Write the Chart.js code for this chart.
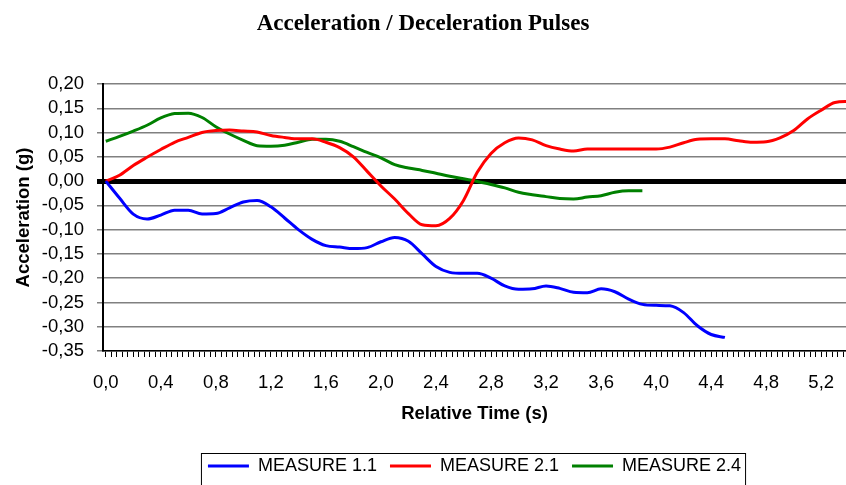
<!DOCTYPE html>
<html>
<head>
<meta charset="utf-8">
<title>Acceleration / Deceleration Pulses</title>
<script src="https://cdn.jsdelivr.net/npm/chart.js@4.4.1/dist/chart.umd.min.js"></script>
<style>
  html, body { margin: 0; padding: 0; background: #fff; }
  canvas { display: block; }
</style>
</head>
<body>
<canvas id="pulseChart" width="846" height="485"></canvas>
<script>
// relative time in seconds, one sample every 0.1 s
const times = [0.0, 0.1, 0.2, 0.3, 0.4, 0.5, 0.6, 0.7, 0.8, 0.9,
  1.0, 1.1, 1.2, 1.3, 1.4, 1.5, 1.6, 1.7, 1.8, 1.9,
  2.0, 2.1, 2.2, 2.3, 2.4, 2.5, 2.6, 2.7, 2.8, 2.9,
  3.0, 3.1, 3.2, 3.3, 3.4, 3.5, 3.6, 3.7, 3.8, 3.9,
  4.0, 4.1, 4.2, 4.3, 4.4, 4.5, 4.6, 4.7, 4.8, 4.9,
  5.0, 5.1, 5.2, 5.3, 5.4];

// acceleration in g
const measure11 = [0.000, -0.035, -0.068, -0.078, -0.070, -0.060, -0.060, -0.068, -0.067, -0.055,
  -0.043, -0.040, -0.053, -0.076, -0.100, -0.120, -0.133, -0.136, -0.139, -0.137,
  -0.125, -0.116, -0.124, -0.150, -0.176, -0.188, -0.190, -0.190, -0.200, -0.216,
  -0.223, -0.222, -0.216, -0.221, -0.229, -0.230, -0.222, -0.228, -0.243, -0.254,
  -0.256, -0.257, -0.271, -0.298, -0.316, -0.322];

const measure21 = [0.000, 0.012, 0.032, 0.049, 0.065, 0.080, 0.090, 0.100, 0.104, 0.105,
  0.103, 0.101, 0.094, 0.090, 0.087, 0.087, 0.080, 0.069, 0.050, 0.020,
  -0.010, -0.037, -0.067, -0.090, -0.092, -0.077, -0.040, 0.018, 0.057, 0.079,
  0.089, 0.085, 0.073, 0.066, 0.062, 0.066, 0.066, 0.066, 0.066, 0.066,
  0.066, 0.070, 0.079, 0.086, 0.087, 0.087, 0.083, 0.080, 0.081, 0.089,
  0.104, 0.128, 0.146, 0.162, 0.164];

const measure24 = [0.082, 0.092, 0.103, 0.115, 0.130, 0.139, 0.140, 0.131, 0.112, 0.097,
  0.084, 0.073, 0.072, 0.074, 0.080, 0.086, 0.086, 0.082, 0.071, 0.059,
  0.048, 0.034, 0.027, 0.022, 0.016, 0.010, 0.005, -0.001, -0.007, -0.014,
  -0.023, -0.028, -0.032, -0.036, -0.037, -0.033, -0.030, -0.023, -0.020, -0.020];

const seriesNames = ['MEASURE 1.1', 'MEASURE 2.1', 'MEASURE 2.4'];
const seriesColors = ['#0000ff', '#ff0000', '#008000'];

const xTickLabels = ['0,0', '0,4', '0,8', '1,2', '1,6', '2,0', '2,4',
  '2,8', '3,2', '3,6', '4,0', '4,4', '4,8', '5,2'];
const yTickValues = [0.20, 0.15, 0.10, 0.05, 0.00, -0.05, -0.10,
  -0.15, -0.20, -0.25, -0.30, -0.35];

const FONT = "'Liberation Sans', Arial, sans-serif";

function toPoints(values) {
  return values.map((v, i) => ({ x: times[i], y: v }));
}

// box drawn round the legend entries, open at the bottom edge
const legendFrame = {
  id: 'legendFrame',
  afterDraw(chart) {
    const boxes = chart.legend && chart.legend.legendHitBoxes;
    if (!boxes || !boxes.length) return;
    const left = Math.min(...boxes.map(b => b.left)) - 7;
    const right = Math.max(...boxes.map(b => b.left + b.width)) + 4;
    const c = chart.ctx;
    c.save();
    c.strokeStyle = '#000';
    c.lineWidth = 1;
    c.strokeRect(left + 0.5, 453.5, right - left, 60);
    c.restore();
  }
};

const datasets = [measure11, measure21, measure24].map((vals, i) => ({
  label: seriesNames[i],
  data: toPoints(vals),
  borderColor: seriesColors[i],
  backgroundColor: seriesColors[i],
  borderWidth: 3,
  pointRadius: 0,
  cubicInterpolationMode: 'monotone',
  fill: false
}));

new Chart(document.getElementById('pulseChart'), {
  type: 'line',
  data: { datasets: datasets },
  plugins: [legendFrame],
  options: {
    responsive: false,
    animation: false,
    layout: { padding: { left: 0, right: 0, top: 0, bottom: 0 } },
    plugins: {
      tooltip: { enabled: false },
      title: {
        display: true,
        text: 'Acceleration / Deceleration Pulses',
        color: '#000',
        font: { family: "'Liberation Serif', 'Times New Roman', serif", size: 23, weight: 'bold' },
        padding: { top: 10, bottom: 46.4 }
      },
      legend: {
        position: 'bottom',
        fullSize: false,
        maxHeight: 41,
        labels: {
          color: '#000',
          font: { family: FONT, size: 18 },
          boxWidth: 41,
          boxHeight: 0,   // zero-height box: the 3px stroke becomes a short line
          padding: 13
        }
      }
    },
    scales: {
      x: {
        type: 'linear',
        min: -0.02,
        max: 5.38,
        afterFit(scale) {
          scale.height = 444 - 351;
          scale.paddingRight = 0;
        },
        afterBuildTicks(scale) {
          const t = [];
          for (let k = 0; k <= 134; k++) t.push({ value: Math.round(k * 4) / 100 });
          scale.ticks = t;
        },
        ticks: {
          autoSkip: false,
          maxRotation: 0,
          color: '#000',
          padding: 15,
          font: { family: FONT, size: 18.5 },
          callback: (v, i) => (i % 10 === 0 ? xTickLabels[i / 10] : '')
        },
        grid: { drawOnChartArea: false, color: '#000', tickLength: 6, lineWidth: 1 },
        border: { display: true, color: '#000', width: 1.5 },
        title: {
          display: true,
          text: 'Relative Time (s)',
          color: '#000',
          font: { family: FONT, size: 18.5, weight: 'bold' },
          padding: { top: 0, bottom: 19 }
        }
      },
      y: {
        type: 'linear',
        min: -0.35,
        max: 0.20,
        afterFit(scale) { scale.width = 103; },
        afterBuildTicks(scale) {
          scale.ticks = yTickValues.map(v => ({ value: v }));
        },
        ticks: {
          autoSkip: false,
          color: '#000',
          padding: 13,
          font: { family: FONT, size: 18.5 },
          callback: v => v.toFixed(2).replace('.', ',')
        },
        grid: {
          tickLength: 6,
          color: ctx => (ctx.tick && ctx.tick.value === 0 ? '#000' : '#808080'),
          tickColor: ctx => (ctx.tick && ctx.tick.value === 0 ? '#000' : '#808080'),
          lineWidth: ctx => (ctx.tick && ctx.tick.value === 0 ? 5 : 1.5),
          tickWidth: ctx => (ctx.tick && ctx.tick.value === 0 ? 5 : 1.5)
        },
        border: { display: true, color: '#000', width: 2 },
        title: {
          display: true,
          text: 'Acceleration (g)',
          color: '#000',
          font: { family: FONT, size: 18.5, weight: 'bold' },
          padding: { top: 13, bottom: 0 }
        }
      }
    }
  }
});
</script>
</body>
</html>
